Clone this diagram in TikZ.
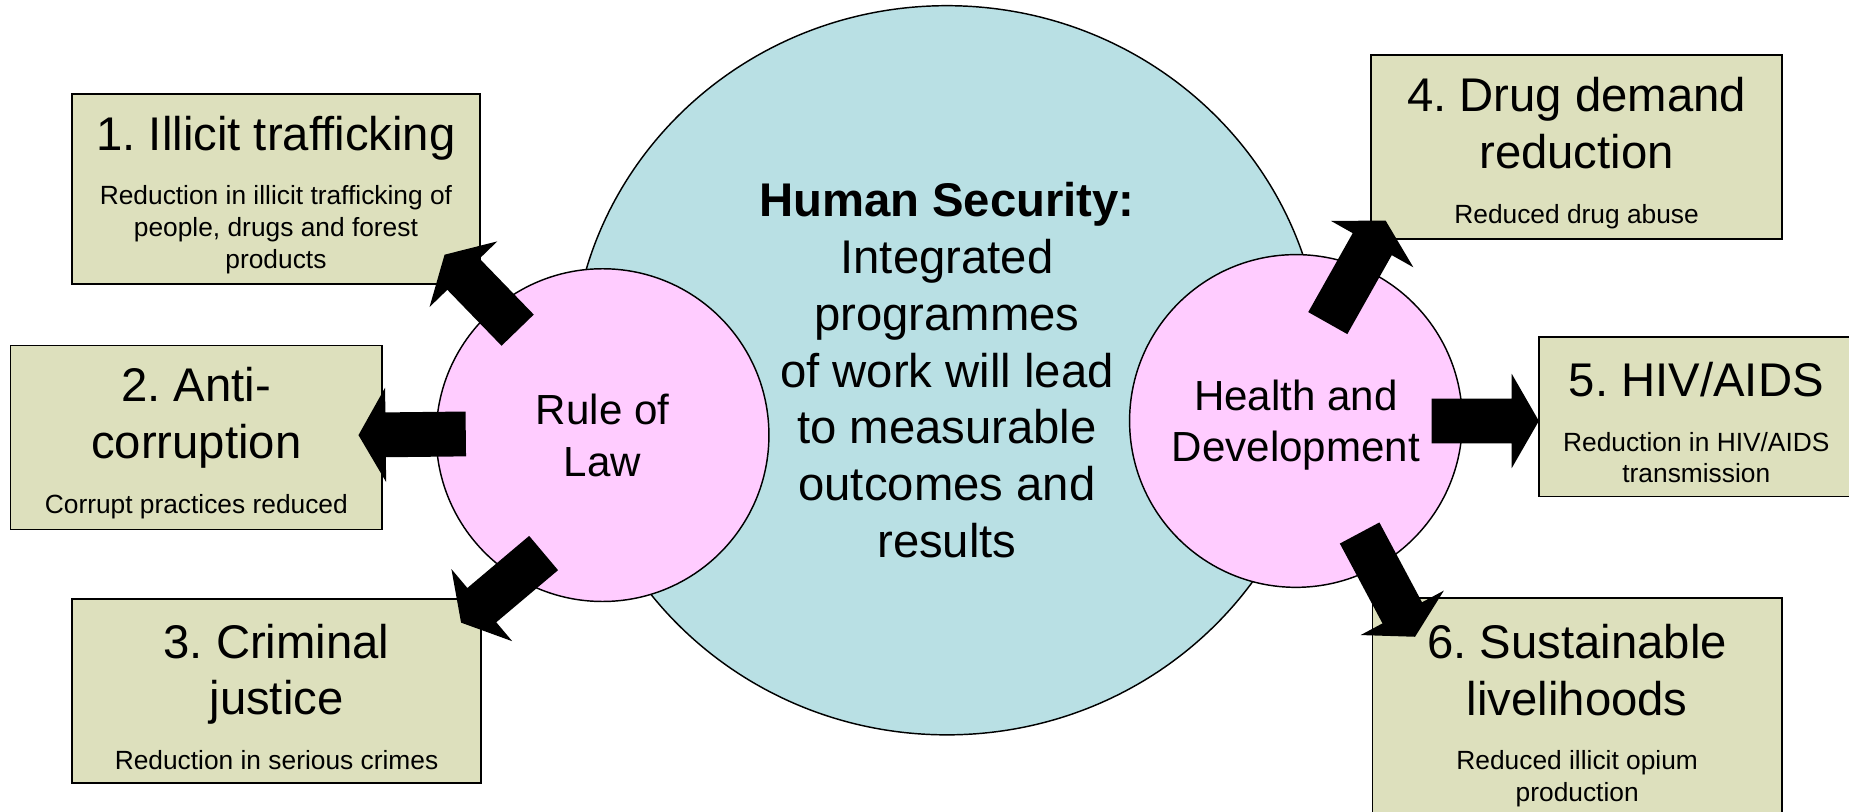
\documentclass[tikz,border=0pt]{standalone}
\usepackage{fontspec}
\setmainfont{Liberation Sans}
\usetikzlibrary{shapes.geometric, calc}
\setlength{\parindent}{0pt}
\frenchspacing
\definecolor{hsblue}{RGB}{185,224,228}
\definecolor{pillarpink}{RGB}{255,204,255}
\definecolor{goalkhaki}{RGB}{221,224,189}
\newcommand{\goaltitle}{\fontsize{11.4}{13.7}\selectfont}
\newcommand{\goalnote}{\fontsize{6.35}{7.7}\selectfont}
\tikzset{
	pillar/.style={circle, draw, line width=0.35pt, fill=pillarpink, minimum size=2.82cm, inner sep=0pt, align=center, text depth=0pt, font=\fontsize{10.15}{12.4}\selectfont},
	goal/.style={rectangle, draw, line width=0.45pt, fill=goalkhaki, inner sep=0pt},
}

\begin{document}
\begin{tikzpicture}[x=0.01cm, y=-0.01cm]
	\useasboundingbox (0,0) rectangle (1568,688);
	\clip (0,0) rectangle (1568,688);
	\node [ellipse, draw, line width=0.35pt, fill=hsblue, minimum width=6.36cm, minimum height=6.18cm, inner sep=0pt, align=center, font=\goaltitle] (hs) at (803,314) {\textbf{Human Security:}\\ Integrated\\ programmes\\ of work will lead\\ to measurable\\ outcomes and\\ results};
	\node [pillar] (law) at (511,369) {Rule of\\ Law};
	\node [pillar] (health) at (1099,357) {Health and\\ Development};
	% outcome boxes
	\node [goal, minimum width=3.46cm, minimum height=1.61cm] (g1) at (234,160.5) {\parbox{3.4cm}{\centering\vspace*{2.8pt}{\goaltitle 1. Illicit trafficking\par}\vspace{5.5pt}{\goalnote Reduction in illicit trafficking of\\ people, drugs and forest\\ products\par}}};
	\node [goal, minimum width=3.15cm, minimum height=1.56cm] (g2) at (166.5,371) {\parbox{3.1cm}{\centering\vspace*{2.8pt}{\goaltitle 2. Anti-\\ corruption\par}\vspace{5.5pt}{\goalnote Corrupt practices reduced\par}}};
	\node [goal, minimum width=3.47cm, minimum height=1.56cm] (g3) at (234.5,586) {\parbox{3.4cm}{\centering\vspace*{2.8pt}{\goaltitle 3. Criminal\\ justice\par}\vspace{5.5pt}{\goalnote Reduction in serious crimes\par}}};
	\node [goal, minimum width=3.48cm, minimum height=1.56cm] (g4) at (1337,125) {\parbox{3.4cm}{\centering\vspace*{2.8pt}{\goaltitle 4. Drug demand\\ reduction\par}\vspace{5.5pt}{\goalnote Reduced drug abuse\par}}};
	\node [goal, minimum width=2.67cm, minimum height=1.35cm] (g5) at (1438.5,353.5) {\parbox{2.6cm}{\centering\vspace*{2.8pt}{\goaltitle 5. HIV/AIDS\par}\vspace{5.5pt}{\goalnote Reduction in HIV/AIDS\\ transmission\par}}};
	\node [goal, minimum width=3.47cm, minimum height=1.90cm] (g6) at (1337.5,602) {\parbox{3.4cm}{\centering\vspace*{2.8pt}{\goaltitle 6. Sustainable\\ livelihoods\par}\vspace{5.5pt}{\goalnote Reduced illicit opium\\ production\par}}};
	% block arrows
	\coordinate (l1) at (439,280);
	\coordinate (l2) at (395,368);
	\coordinate (l3) at (461,469);
	\coordinate (h4) at (1126,274);
	\coordinate (h5) at (1214,357);
	\coordinate (h6) at (1153,452);
	\coordinate (t1) at (377,216);
	\coordinate (t2) at (304,369);
	\coordinate (t3) at (391,528);
	\coordinate (t4) at (1175,187);
	\coordinate (t5) at (1305,357);
	\coordinate (t6) at (1200,540);
	\foreach \s/\e in {l1/t1, l2/t2, l3/t3, h4/t4, h5/t5, h6/t6} {
		\coordinate (base) at ($(\e)!0.23cm!(\s)$);
		\fill ($(\s)!0.19cm!90:(\e)$) -- ($(base)!0.19cm!90:(\e)$) -- ($(base)!0.4cm!90:(\e)$) -- (\e) -- ($(base)!0.4cm!-90:(\e)$) -- ($(base)!0.19cm!-90:(\e)$) -- ($(\s)!0.19cm!-90:(\e)$) -- cycle;
	}
\end{tikzpicture}
\end{document}
